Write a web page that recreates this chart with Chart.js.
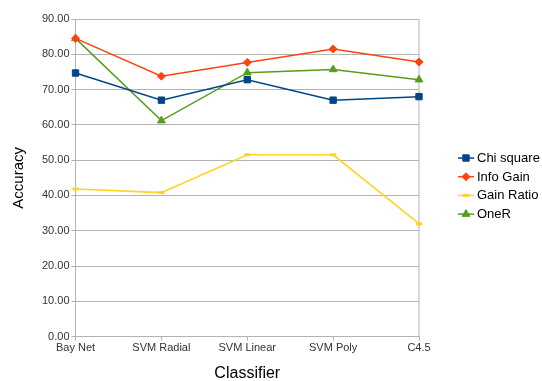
<!DOCTYPE html>
<html>
<head>
<meta charset="utf-8">
<script src="https://cdn.jsdelivr.net/npm/chart.js@4"></script>
<style>
  html, body { margin: 0; padding: 0; background: #fff; }
  #wrap { width: 542px; height: 381px; }
</style>
</head>
<body>
<div id="wrap"><canvas id="accuracy_chart"></canvas></div>
<script>
const classifiers = ["Bay Net", "SVM Radial", "SVM Linear", "SVM Poly", "C4.5"];
const chiSquare = [74.7, 67.0, 72.8, 67.0, 68.0];
const infoGain = [84.5, 73.8, 77.7, 81.5, 77.8];
const gainRatio = [41.8, 40.8, 51.5, 51.5, 32.0];
const oneR = [84.5, 61.2, 74.8, 75.7, 72.8];
const yTicks = [0, 10, 20, 30, 40, 50, 60, 70, 80, 90];

const FONT = "'Liberation Sans', Arial, sans-serif";

const series = [
  { label: "Chi square", data: chiSquare, color: "#004586", style: "rect", radius: 4.5, width: 1.5 },
  { label: "Info Gain", data: infoGain, color: "#ff420e", style: "rectRot", radius: 4, width: 1.5 },
  { label: "Gain Ratio", data: gainRatio, color: "#ffd320", style: "line", radius: 3, width: 1.5 },
  { label: "OneR", data: oneR, color: "#579d1c", style: "triangle", radius: 4.5, width: 1.5 },
];

// legend on the right: line with marker, drawn by hand
const sideLegend = {
  id: "sideLegend",
  afterDraw(chart) {
    const ctx = chart.ctx;
    ctx.save();
    ctx.font = "13px " + FONT;
    ctx.textBaseline = "middle";
    series.forEach((s, i) => {
      const y = 158 + i * 18.7;
      ctx.strokeStyle = s.color;
      ctx.lineWidth = 1.5;
      ctx.beginPath();
      ctx.moveTo(458, y);
      ctx.lineTo(474, y);
      ctx.stroke();
      ctx.fillStyle = s.color;
      ctx.lineWidth = s.style === "line" ? 3 : 1;
      Chart.helpers.drawPoint(ctx, { pointStyle: s.style, radius: s.radius, borderWidth: ctx.lineWidth, rotation: 0 }, 466, y);
      ctx.fillStyle = "#000";
      ctx.fillText(s.label, 477, y + 0.5);
    });
    ctx.restore();
  },
};

new Chart(document.getElementById("accuracy_chart"), {
  type: "line",
  data: {
    labels: classifiers,
    datasets: series.map((s) => ({
      label: s.label,
      data: s.data,
      borderColor: s.color,
      backgroundColor: s.color,
      borderWidth: s.width,
      pointStyle: s.style,
      pointRadius: s.radius,
      pointBorderWidth: s.style === "line" ? 3 : 1,
      pointHoverRadius: s.radius,
      tension: 0,
    })),
  },
  options: {
    responsive: true,
    maintainAspectRatio: false,
    animation: false,
    layout: { padding: { top: 19, right: 123, left: 10, bottom: -2 } },
    plugins: {
      legend: { display: false },
      tooltip: { enabled: false },
    },
    scales: {
      x: {
        offset: false,
        grid: { color: "#b3b3b3", drawOnChartArea: false, tickLength: 4 },
        border: { color: "#b3b3b3", width: 1 },
        ticks: { color: "#333", font: { family: FONT, size: 11 }, maxRotation: 0, padding: 1 },
        title: { display: true, text: "Classifier", color: "#000", font: { family: FONT, size: 16 }, padding: { top: 8, bottom: 0 } },
      },
      y: {
        min: 0,
        max: 90,
        afterBuildTicks: (axis) => { axis.ticks = yTicks.map((v) => ({ value: v })); },
        grid: { color: "#b3b3b3", tickLength: 4 },
        border: { color: "#b3b3b3", width: 1 },
        ticks: { color: "#333", font: { family: FONT, size: 11 }, padding: 2, callback: (v) => v.toFixed(2) },
        title: { display: true, text: "Accuracy", color: "#000", font: { family: FONT, size: 15 }, padding: { top: 0, bottom: 12 } },
      },
    },
  },
  plugins: [
    sideLegend,
    {
      id: "rightFrame",
      beforeDatasetsDraw(chart) {
        const { ctx, chartArea } = chart;
        ctx.save();
        ctx.strokeStyle = "#b3b3b3";
        ctx.lineWidth = 1;
        ctx.beginPath();
        ctx.moveTo(chartArea.right, chartArea.top);
        ctx.lineTo(chartArea.right, chartArea.bottom);
        ctx.stroke();
        ctx.restore();
      },
    },
  ],
});
</script>
</body>
</html>
